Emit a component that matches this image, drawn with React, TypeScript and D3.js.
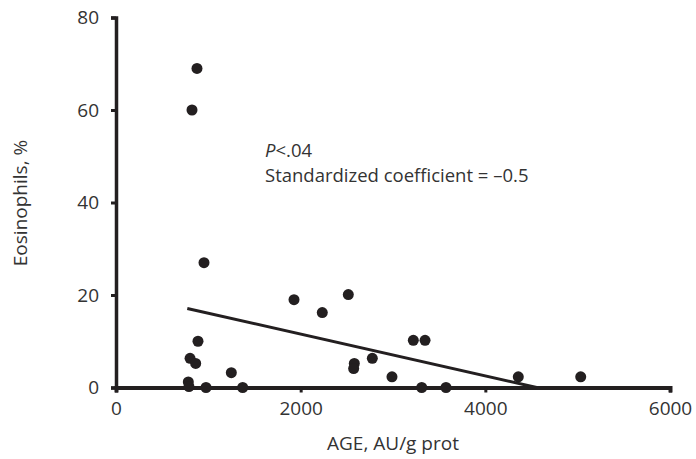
import React, { useRef, useEffect } from 'react'
import * as d3 from 'd3'

// AGE (AU/g prot) and eosinophils (%)
const ageValues = [823, 877, 953, 888, 802, 863, 783, 790, 975, 1249, 1372, 1928, 2234, 2516, 2581, 2574, 2776, 2989, 3220, 3347, 3311, 3574, 4357, 5033]
const eosValues = [60, 69, 27, 10, 6.3, 5.2, 1.2, 0.2, 0, 3.2, 0, 19, 16.2, 20.1, 5.2, 4.1, 6.3, 2.3, 10.2, 10.2, 0, 0, 2.3, 2.3]

// fitted regression line end points
const fitX = [772, 4556]
const fitY = [17.1, 0]

const xTicks = [0, 2000, 4000, 6000]
const yTicks = [0, 20, 40, 60, 80]

const FONT = "'Open Sans', 'Noto Sans', sans-serif"
const INK = '#231f20'
const TEXT = '#333'

const App = () => {
  const svgRef = useRef<SVGSVGElement>(null)

  useEffect(() => {
    const svg = d3.select(svgRef.current)
    svg.selectAll('*').remove()

    const x = d3.scaleLinear().domain([0, 6000]).range([116, 670])
    const y = d3.scaleLinear().domain([0, 80]).range([387.5, 17.5])

    // y axis
    const yAxis = svg.append('g')
      .attr('transform', `translate(${x(0)},0)`)
      .call(d3.axisLeft(y).tickValues(yTicks).tickFormat(d3.format('d')).tickSize(5).tickPadding(12))
    yAxis.select('.domain').attr('stroke', INK).attr('stroke-width', 3.5)
    yAxis.selectAll('.tick line').attr('stroke', INK).attr('stroke-width', 3)
    yAxis.selectAll('.tick text')
      .attr('fill', TEXT).style('font-family', FONT).style('font-size', '19px')

    // x axis
    const xAxis = svg.append('g')
      .attr('transform', `translate(0,${y(0)})`)
      .call(d3.axisBottom(x).tickValues(xTicks).tickFormat(d3.format('d')).tickSize(5).tickPadding(9))
    xAxis.select('.domain').attr('stroke', INK).attr('stroke-width', 4)
    xAxis.selectAll('.tick line').attr('stroke', INK).attr('stroke-width', 3)
    xAxis.selectAll('.tick text')
      .attr('fill', TEXT).style('font-family', FONT).style('font-size', '19px')

    // points
    svg.append('g')
      .selectAll('circle')
      .data(ageValues.map((a, i) => [a, eosValues[i]]))
      .enter().append('circle')
      .attr('cx', d => x(d[0]))
      .attr('cy', d => y(d[1]))
      .attr('r', 5.5)
      .attr('fill', INK)

    // regression line
    svg.append('path')
      .datum(fitX.map((v, i) => [v, fitY[i]] as [number, number]))
      .attr('d', d3.line<[number, number]>().x(d => x(d[0])).y(d => y(d[1])))
      .attr('stroke', INK)
      .attr('stroke-width', 3)
      .attr('fill', 'none')

    // annotation, two separate lines
    const p = svg.append('text')
      .attr('x', 265).attr('y', 157)
      .attr('fill', TEXT)
      .style('font-family', FONT)
      .style('font-size', '18.5px')
    p.append('tspan').style('font-style', 'italic').text('P')
    p.append('tspan').text('<.04')

    svg.append('text')
      .attr('x', 265).attr('y', 182)
      .attr('fill', TEXT)
      .style('font-family', FONT)
      .style('font-size', '18.5px')
      .text('Standardized coefficient = –0.5')

    // axis titles
    svg.append('text')
      .attr('x', 393).attr('y', 450)
      .attr('text-anchor', 'middle')
      .attr('fill', TEXT)
      .style('font-family', FONT).style('font-size', '19px')
      .text('AGE, AU/g prot')

    svg.append('text')
      .attr('transform', 'translate(27,203) rotate(-90)')
      .attr('text-anchor', 'middle')
      .attr('fill', TEXT)
      .style('font-family', FONT).style('font-size', '19px')
      .text('Eosinophils, %')
  }, [])

  return (
    <svg ref={svgRef} width={696} height={459}
      style={{ position: 'absolute', left: 0, top: 0, background: '#fff' }} />
  )
}

export default App
